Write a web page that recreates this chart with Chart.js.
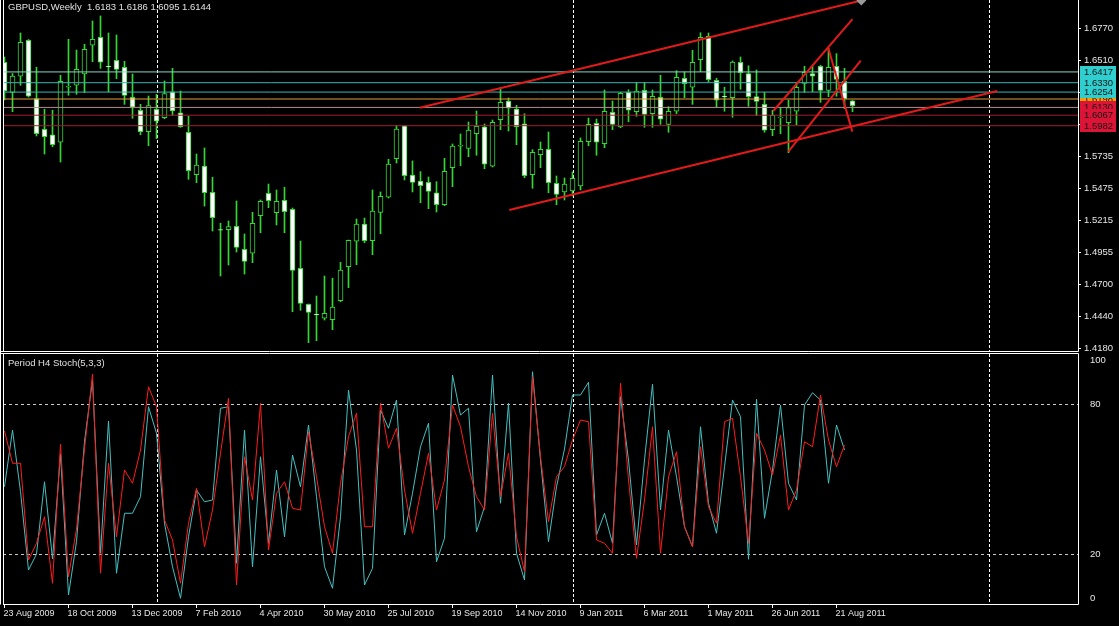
<!DOCTYPE html>
<html>
<head>
<meta charset="utf-8">
<script src="https://cdn.jsdelivr.net/npm/chart.js@4.4.1/dist/chart.umd.min.js"></script>
<style>
html,body{margin:0;padding:0;background:#000;}
body{width:1119px;height:626px;overflow:hidden;position:relative;}
canvas{position:absolute;left:0;display:block;}
#price{top:0}
#stoch{top:352px}
</style>
</head>
<body>
<canvas id="price" width="1119" height="360"></canvas>
<canvas id="stoch" width="1119" height="274"></canvas>
<script>
const symbol = 'GBPUSD,Weekly';
const stochTitle = 'Period H4 Stoch(5,3,3)';

const opens = [1.6495,1.6252,1.6382,1.6673,1.6201,1.5953,1.5909,1.5848,1.6294,1.6309,
 1.6400,1.6633,1.6697,1.6463,1.6511,1.6455,1.6212,1.6107,1.5934,1.6115,
 1.6047,1.6257,1.6087,1.5929,1.5586,1.5656,1.5443,1.5142,1.5141,1.5168,
 1.4982,1.4950,1.5254,1.5435,1.5278,1.5379,1.5306,1.4828,1.4537,1.4456,
 1.4424,1.4413,1.4566,1.4841,1.5047,1.5187,1.5052,1.5281,1.5403,1.5715,
 1.5980,1.5583,1.5535,1.5524,1.5438,1.5343,1.5642,1.5816,1.5799,1.5917,
 1.5972,1.5654,1.6031,1.6182,1.6117,1.5998,1.5586,1.5747,1.5791,1.5516,
 1.5446,1.5454,1.5494,1.5853,1.6002,1.5836,1.6090,1.5972,1.6252,1.6095,
 1.6268,1.6079,1.6212,1.5993,1.6099,1.6366,1.6293,1.6516,1.6705,1.6349,
 1.6220,1.6209,1.6495,1.6403,1.6217,1.6155,1.5950,1.6047,1.6006,1.6099,
 1.6325,1.6403,1.6463,1.6268,1.6463,1.6341,1.6183];
const highs = [1.6538,1.6404,1.6732,1.6679,1.6455,1.6115,1.6107,1.6390,1.6681,1.6594,
 1.6641,1.6829,1.6870,1.6732,1.6716,1.6503,1.6400,1.6155,1.6222,1.6236,
 1.6344,1.6446,1.6263,1.6058,1.5753,1.5802,1.5565,1.5193,1.5211,1.5373,
 1.5106,1.5281,1.5381,1.5510,1.5462,1.5484,1.5316,1.5049,1.4540,1.4604,
 1.4766,1.4748,1.4877,1.5057,1.5227,1.5235,1.5462,1.5446,1.5710,1.5985,
 1.5985,1.5697,1.5610,1.5567,1.5529,1.5718,1.5834,1.5915,1.6012,1.6101,
 1.5996,1.6028,1.6293,1.6206,1.6147,1.6079,1.5788,1.5850,1.5931,1.5575,
 1.5559,1.5608,1.5883,1.6044,1.6036,1.6271,1.6182,1.6252,1.6273,1.6333,
 1.6333,1.6271,1.6390,1.6136,1.6427,1.6417,1.6592,1.6734,1.6732,1.6366,
 1.6293,1.6506,1.6538,1.6467,1.6433,1.6252,1.6107,1.6131,1.6188,1.6333,
 1.6463,1.6463,1.6471,1.6608,1.6565,1.6446,1.6186];
const lows = [1.6190,1.6095,1.6309,1.6214,1.5899,1.5753,1.5812,1.5688,1.6228,1.6236,
 1.6249,1.6500,1.6446,1.6257,1.6362,1.6155,1.6042,1.5909,1.5820,1.5877,
 1.6039,1.6066,1.5969,1.5548,1.5521,1.5332,1.5130,1.4766,1.4855,1.4960,
 1.4782,1.4874,1.5116,1.5319,1.5179,1.5116,1.4477,1.4489,1.4227,1.4243,
 1.4410,1.4332,1.4558,1.4672,1.4858,1.5036,1.4938,1.5108,1.5397,1.5680,
 1.5543,1.5446,1.5359,1.5311,1.5284,1.5335,1.5489,1.5658,1.5731,1.5743,
 1.5634,1.5648,1.5950,1.5939,1.5828,1.5561,1.5476,1.5642,1.5440,1.5343,
 1.5381,1.5413,1.5462,1.5820,1.5743,1.5804,1.5950,1.5966,1.6014,1.6058,
 1.5969,1.5969,1.5993,1.5929,1.6079,1.6209,1.6155,1.6419,1.6338,1.6131,
 1.6099,1.6050,1.6277,1.6139,1.6063,1.5929,1.5901,1.5917,1.5764,1.5990,
 1.6252,1.6257,1.6171,1.6217,1.6220,1.6120,1.6095];
const closes = [1.6263,1.6384,1.6657,1.6220,1.5917,1.5893,1.5828,1.6341,1.6301,1.6438,
 1.6600,1.6681,1.6495,1.6458,1.6438,1.6228,1.6131,1.5934,1.6144,1.6018,
 1.6241,1.6101,1.5972,1.5618,1.5664,1.5440,1.5238,1.5136,1.5165,1.4998,
 1.4885,1.5193,1.5370,1.5375,1.5370,1.5286,1.4812,1.4545,1.4472,1.4451,
 1.4464,1.4515,1.4815,1.5055,1.5187,1.5052,1.5292,1.5411,1.5672,1.5955,
 1.5578,1.5524,1.5497,1.5451,1.5343,1.5613,1.5818,1.5824,1.5947,1.5977,
 1.5670,1.6010,1.6171,1.6123,1.5972,1.5578,1.5767,1.5791,1.5521,1.5427,
 1.5510,1.5557,1.5856,1.5993,1.5848,1.6099,1.5993,1.6244,1.6107,1.6263,
 1.6074,1.6220,1.6034,1.6099,1.6374,1.6322,1.6495,1.6697,1.6354,1.6188,
 1.6214,1.6497,1.6411,1.6217,1.6179,1.5945,1.6066,1.6052,1.6128,1.6293,
 1.6414,1.6382,1.6268,1.6455,1.6357,1.6201,1.6144];

const stochMain = [46.9,69.6,45,13.6,20,48.9,18,60,3.6,25,
 65,89.6,20.3,73.2,12.3,36.3,36.3,42.9,78.9,68.3,
 32.3,14.9,2.3,26.9,45.6,40.9,41.6,78.3,78.9,16.3,
 69.6,14.9,58.9,24.3,53.6,26.9,59.6,46.9,71.6,42.9,
 14.9,6.3,34.9,85.6,61.6,7.6,14.3,77.6,70.3,81.6,
 27.6,44.3,62.9,72.3,16.9,26.3,91.6,75.6,78.3,28.9,
 38.9,91.6,40.3,80.3,20.3,9.6,92.9,57.6,24.9,46.9,
 62,83.6,83.6,88.7,27.6,36.3,24.3,82.9,57.6,23.6,
 57.6,87.9,37.6,69.6,50.9,30.9,22.9,70.9,40.3,28.3,
 54.9,81.6,74.9,17.9,81.9,34.3,53.6,79.6,48.3,41.6,
 79.6,84.5,81.6,48.3,71.6,61.6,null];
const stochSignal = [69.2,56.3,56.3,17.6,24.3,34.9,8.3,63.9,10.9,30,
 62,92,12.3,56.3,26.9,53.6,48.3,61.6,86.9,78.9,
 33.6,25.6,8.3,32.3,46.3,22.9,37.6,60.3,82.3,7.6,
 58.9,41.6,80.3,21.6,44.3,48.9,38.3,37.6,68.9,50.9,
 30.9,20.3,48.3,66.9,76.3,30.9,30.9,80.3,62.3,70.3,
 45.6,28.3,44.3,60.3,37.6,49.6,79.6,70.9,54.9,42.9,
 37.6,76.3,42.9,60.3,26.9,12.9,90.9,58.9,32.9,50.9,
 55,65.6,73.6,72.9,25.6,24.3,20.3,88.3,49.6,18.3,
 41.6,70.9,20.3,50.9,60.9,30.9,22.9,62.9,38.9,32.3,
 72.9,74.3,50.9,24.3,68.3,61.6,51.6,67.6,37.6,45.6,
 64.9,62.9,83.6,65.6,54.9,63.6,null];

const dateLabels = ['23 Aug 2009','18 Oct 2009','13 Dec 2009','7 Feb 2010','4 Apr 2010','30 May 2010','25 Jul 2010','19 Sep 2010','14 Nov 2010','9 Jan 2011','6 Mar 2011','1 May 2011','26 Jun 2011','21 Aug 2011'];
const labelWeeks = [0,8,16,24,32,40,48,56,64,72,80,88,96,104];
const yearStartWeeks = [19,71,123];
const priceTicks = [1.6770,1.6510,1.6250,1.5990,1.5735,1.5475,1.5215,1.4955,1.4700,1.4440,1.4180];
const stochTicks = [0,20,80,100];
const stochLevels = [20,80];

const levels = [1.6417,1.6330,1.6254,1.6198,1.6130,1.6067,1.5982];
const levelLineColors = ['#86d6c6','#3ab4b4','#3ab4b4','#e89a3a','#b88a92','#a41c30','#a41c30'];
const levelBoxColors = ['#2fcfcf','#2fcfcf','#2fcfcf','#ff9a00','#dc1438','#dc1438','#dc1438'];
const levelDrawOrder = [3,0,1,2,4,5,6];

const trendFrom = [[51.9,1.6128],[63.1,1.5300],[96.1,1.6101],[97.98,1.5772],[102.98,1.6608]];
const trendTo   = [[107.1,1.6995],[124.1,1.6263],[106.0,1.6845],[107.03,1.6508],[105.98,1.5934]];

const X_MIN = -0.1875, X_MAX = 134.1875;
const GREEN = '#35d635';
const FONT = "'Liberation Sans', Arial, sans-serif";

Chart.defaults.font.family = FONT;
Chart.defaults.font.size = 9.5;
Chart.defaults.color = '#e6e6e6';

const idx = opens.map((_, i) => i);
const isBear = i => closes[i] < opens[i];

const priceDecor = {
  id: 'priceDecor',
  beforeDatasetsDraw(chart) {
    const {ctx, chartArea: a, scales: {x}} = chart;
    ctx.save();
    ctx.lineWidth = 1; ctx.strokeStyle = '#ffffff'; ctx.setLineDash([3, 2]);
    yearStartWeeks.forEach(w => {
      const px = Math.round(x.getPixelForValue(w)) + 0.5;
      ctx.beginPath(); ctx.moveTo(px, a.top); ctx.lineTo(px, a.bottom); ctx.stroke();
    });
    ctx.restore();
  },
  afterDraw(chart) {
    const {ctx, chartArea: a, scales: {y}} = chart;
    ctx.save();
    ctx.lineWidth = 1; ctx.strokeStyle = '#ffffff'; ctx.setLineDash([]);
    ctx.beginPath();
    ctx.moveTo(0.5, 0); ctx.lineTo(0.5, a.bottom + 1);
    ctx.moveTo(a.left + 0.5, 0); ctx.lineTo(a.left + 0.5, a.bottom + 0.5);
    ctx.moveTo(a.right + 0.5, 0); ctx.lineTo(a.right + 0.5, a.bottom + 0.5);
    ctx.moveTo(0, a.bottom + 0.5); ctx.lineTo(a.right + 0.5, a.bottom + 0.5);
    ctx.stroke();
    ctx.font = '9.5px ' + FONT; ctx.textBaseline = 'middle'; ctx.textAlign = 'left';
    ctx.fillStyle = '#e0e0e0';
    const L = opens.length - 1;
    ctx.fillText(symbol + '  ' + [opens[L], highs[L], lows[L], closes[L]].map(v => v.toFixed(4)).join(' '), 8, 7);
    levelDrawOrder.forEach(k => {
      const py = Math.round(y.getPixelForValue(levels[k]));
      ctx.fillStyle = levelBoxColors[k];
      ctx.fillRect(a.right + 2, py - 6, 36, 12);
      ctx.fillStyle = '#141414';
      ctx.fillText(levels[k].toFixed(4), a.right + 6, py + 0.5);
    });
    ctx.restore();
  }
};

const datasets = [];
trendFrom.forEach((p, k) => {
  datasets.push({
    type: 'line', data: [{x: p[0], y: p[1]}, {x: trendTo[k][0], y: trendTo[k][1]}],
    borderColor: '#e31a1a', borderWidth: 2, order: 0,
    pointRadius: k === 0 ? [0, 3.5] : 0, pointStyle: 'rectRot',
    pointBackgroundColor: '#9a9a9a', pointBorderColor: '#9a9a9a'
  });
});
levels.forEach((lv, k) => {
  datasets.push({
    type: 'line', data: [{x: X_MIN, y: lv}, {x: X_MAX, y: lv}],
    borderColor: levelLineColors[k], borderWidth: 1, pointRadius: 0, order: 1
  });
});
datasets.push({
  type: 'bar', data: idx.map(i => ({x: i, y: [opens[i], closes[i]]})),
  backgroundColor: c => isBear(c.dataIndex) ? '#ffffff' : '#000000',
  borderColor: GREEN, borderWidth: 1, borderSkipped: false,
  barThickness: 5, grouped: false, order: 2
});
datasets.push({
  type: 'bar', data: idx.map(i => ({x: i, y: [lows[i], highs[i]]})),
  backgroundColor: GREEN, borderWidth: 0, barThickness: 1, grouped: false, order: 3
});

new Chart(document.getElementById('price'), {
  type: 'bar',
  data: {datasets},
  options: {
    responsive: false, animation: false, events: [],
    plugins: {legend: {display: false}, tooltip: {enabled: false}},
    layout: {autoPadding: false, padding: {left: 3, top: 0, right: 0, bottom: 9}},
    scales: {
      x: {type: 'linear', min: X_MIN, max: X_MAX, offset: false, display: false},
      y: {
        type: 'linear', position: 'right', min: 1.415936, max: 1.699895,
        afterFit: s => { s.width = 41; s.paddingTop = 0; s.paddingBottom = 0; },
        afterBuildTicks: s => { s.ticks = priceTicks.map(v => ({value: v})); },
        ticks: {callback: v => Number(v).toFixed(4), padding: 3, autoSkip: false, color: '#e6e6e6'},
        grid: {display: true, drawOnChartArea: false, drawTicks: true, tickLength: 3, color: '#ffffff'},
        border: {display: false}
      }
    }
  },
  plugins: [priceDecor]
});

const stochDecor = {
  id: 'stochDecor',
  beforeDatasetsDraw(chart) {
    const {ctx, chartArea: a, scales: {x, y}} = chart;
    ctx.save();
    ctx.lineWidth = 1; ctx.setLineDash([3, 3]); ctx.strokeStyle = '#c8c8c8';
    stochLevels.forEach(v => {
      const py = Math.round(y.getPixelForValue(v)) + 0.5;
      ctx.beginPath(); ctx.moveTo(a.left, py); ctx.lineTo(a.right, py); ctx.stroke();
    });
    ctx.setLineDash([3, 2]); ctx.strokeStyle = '#ffffff';
    yearStartWeeks.forEach(w => {
      const px = Math.round(x.getPixelForValue(w)) + 0.5;
      ctx.beginPath(); ctx.moveTo(px, a.top); ctx.lineTo(px, a.bottom); ctx.stroke();
    });
    ctx.restore();
  },
  afterDraw(chart) {
    const {ctx, chartArea: a} = chart;
    ctx.save();
    ctx.lineWidth = 1; ctx.strokeStyle = '#ffffff'; ctx.setLineDash([]);
    ctx.beginPath();
    ctx.moveTo(0.5, 0); ctx.lineTo(0.5, a.bottom + 0.5);
    ctx.moveTo(0, a.top - 0.5); ctx.lineTo(a.right + 0.5, a.top - 0.5);
    ctx.moveTo(a.left + 0.5, a.top - 0.5); ctx.lineTo(a.left + 0.5, a.bottom + 0.5);
    ctx.moveTo(a.right + 0.5, a.top - 0.5); ctx.lineTo(a.right + 0.5, a.bottom + 0.5);
    ctx.moveTo(a.left, a.bottom + 0.5); ctx.lineTo(a.right + 0.5, a.bottom + 0.5);
    ctx.stroke();
    ctx.font = '9.5px ' + FONT; ctx.textBaseline = 'middle'; ctx.textAlign = 'left';
    ctx.fillStyle = '#e0e0e0';
    ctx.fillText(stochTitle, 8, 11.5);
    ctx.restore();
  }
};

new Chart(document.getElementById('stoch'), {
  type: 'line',
  data: {datasets: [
    {data: idx.map(i => ({x: i, y: stochSignal[i]})), borderColor: '#ff1c1c', borderWidth: 1, pointRadius: 0, order: 0},
    {data: idx.map(i => ({x: i, y: stochMain[i]})), borderColor: '#45c0c0', borderWidth: 1, pointRadius: 0, order: 1}
  ]},
  options: {
    responsive: false, animation: false, events: [],
    plugins: {legend: {display: false}, tooltip: {enabled: false}},
    layout: {autoPadding: false, padding: {left: 3, top: 2, right: 0, bottom: 0}},
    scales: {
      x: {
        type: 'linear', min: X_MIN, max: X_MAX, offset: false,
        afterFit: s => { s.height = 22; s.paddingLeft = 0; s.paddingRight = 0; },
        afterBuildTicks: s => { s.ticks = labelWeeks.map(v => ({value: v})); },
        ticks: {callback: (v, k) => dateLabels[k], align: 'start', labelOffset: -1, maxRotation: 0, minRotation: 0, autoSkip: false, padding: 0, color: '#e6e6e6', font: {size: 9}},
        grid: {display: true, drawOnChartArea: false, drawTicks: true, tickLength: 4, color: '#ffffff'},
        border: {display: false}
      },
      y: {
        type: 'linear', position: 'right', min: 0, max: 100,
        afterFit: s => { s.width = 41; s.paddingTop = 0; s.paddingBottom = 0; },
        afterBuildTicks: s => { s.ticks = stochTicks.map(v => ({value: v === 0 ? 2.4 : (v === 100 ? 97.6 : v)})); },
        ticks: {callback: (v, k) => String(stochTicks[k]), padding: 4, autoSkip: false, color: '#e6e6e6'},
        grid: {display: false},
        border: {display: false}
      }
    }
  },
  plugins: [stochDecor]
});
</script>
</body>
</html>
